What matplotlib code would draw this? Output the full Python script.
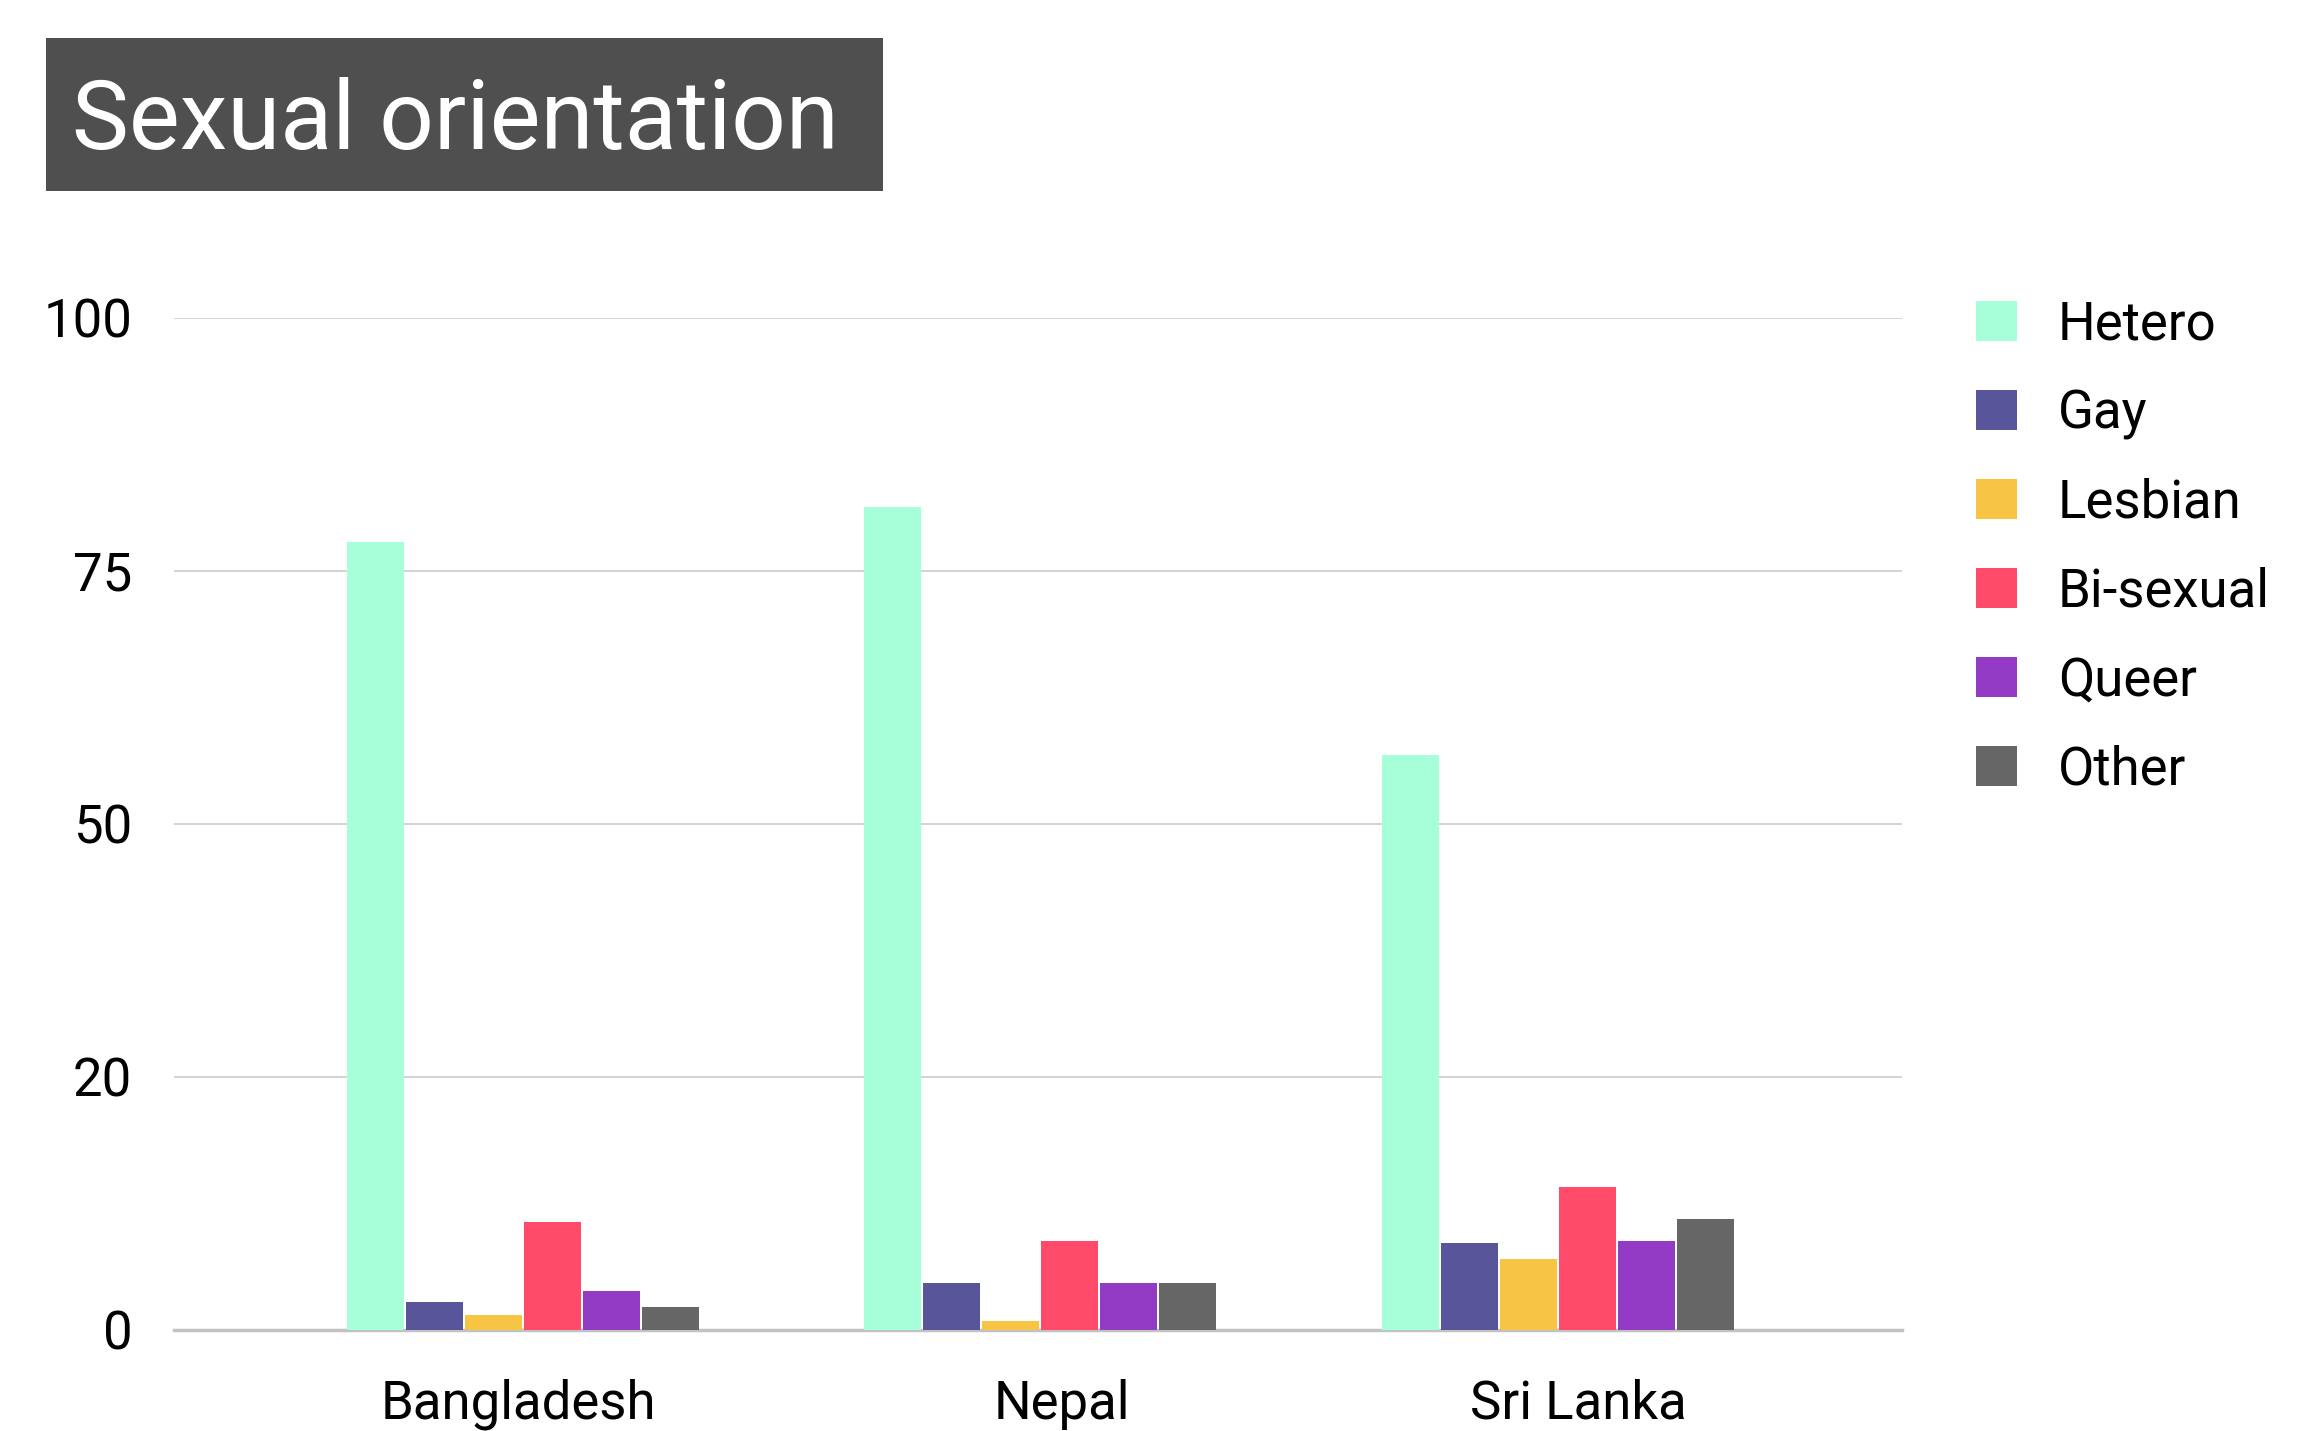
import numpy as np
import matplotlib.pyplot as plt
import matplotlib.transforms as mtransforms
from matplotlib.patches import Rectangle

plt.rcParams['font.family'] = ['Roboto', 'DejaVu Sans']

# datos
countries = ['Bangladesh', 'Nepal', 'Sri Lanka']
series = ['Hetero', 'Gay', 'Lesbian', 'Bi-sexual', 'Queer', 'Other']
values = {
    'Hetero':    [77.9, 81.3, 56.8],
    'Gay':       [2.8, 4.6, 8.6],
    'Lesbian':   [1.5, 0.9, 7.0],
    'Bi-sexual': [10.7, 8.8, 14.1],
    'Queer':     [3.9, 4.6, 8.8],
    'Other':     [2.3, 4.6, 11.0],
}
colors = ['#a6ffd9', '#58559b', '#f8c443', '#ff4a69', '#933bc4', '#666666']
tick_pos = [0, 25, 50, 75, 100]
tick_labels = ['0', '20', '50', '75', '100']

fig = plt.figure(figsize=(23.16, 14.31), dpi=100)
ax = fig.add_axes([0.0751, 0.0706, 0.7461, 0.7072])

x = np.arange(len(countries))
width = 0.110
pitch = 0.114
offsets = (np.arange(len(series)) - (len(series) - 1) / 2) * pitch

for i, name in enumerate(series):
    ax.bar(x + offsets[i], values[name], width=width, color=colors[i],
           label=name, zorder=3)

ax.set_xlim(-0.674, 2.665)
ax.set_ylim(0, 100)
ax.set_yticks(tick_pos)
ax.set_yticklabels(tick_labels)
ax.set_xticks(x)
ax.set_xticklabels(countries)
ax.tick_params(axis='both', length=0, labelsize=38, colors='black')
ax.tick_params(axis='y', pad=30)
ax.tick_params(axis='x', pad=35)

# las etiquetas del original no quedan centradas del todo en los grupos
for lab, dx in zip(ax.get_xticklabels(), [-4, 22, 21]):
    lab.set_transform(lab.get_transform() +
                      mtransforms.ScaledTranslation(dx / 100, 0, fig.dpi_scale_trans))

ax.grid(axis='y', color='#cccccc', linewidth=1.2, zorder=0)
for s in ['top', 'right', 'left']:
    ax.spines[s].set_visible(False)
ax.spines['bottom'].set_color('#c2c2c2')
ax.spines['bottom'].set_linewidth(2.5)

# leyenda
leg = ax.legend(loc='upper left', bbox_to_anchor=(0.853, 0.791),
                bbox_transform=fig.transFigure, frameon=False, fontsize=38,
                handlelength=0.78, handleheight=0.78, handletextpad=0.78,
                labelspacing=0.72, borderaxespad=0, borderpad=0)

# título con caja oscura
fig.patches.append(Rectangle((46 / 2316, 1 - 191 / 1431), (883 - 46) / 2316,
                             (191 - 38) / 1431, transform=fig.transFigure,
                             facecolor='#4f4f4f', edgecolor='none'))
fig.text(72 / 2316, 1 - 123 / 1431, 'Sexual orientation', color='white',
         fontsize=69, va='center', ha='left')

fig.savefig('out.png', dpi=100)
